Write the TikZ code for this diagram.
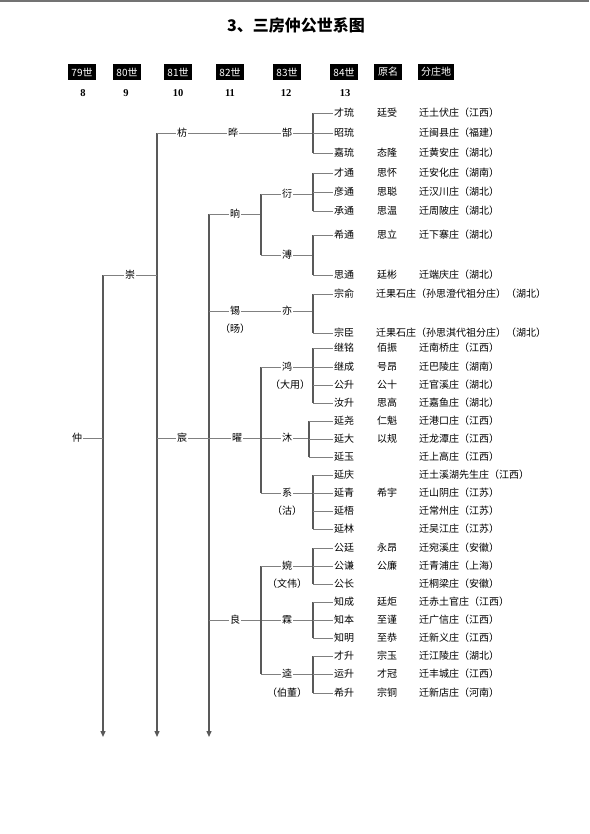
\documentclass[tikz,border=0pt]{standalone}
\usepackage{fontspec}
\newfontfamily\cjk{Noto Sans CJK SC}
\newfontfamily\ser{Liberation Serif}
\usetikzlibrary{arrows.meta,backgrounds}
\begin{document}
\begin{tikzpicture}[x=1pt,y=-1pt,
  txt/.style={font=\cjk\fontsize{10}{12}\selectfont, inner sep=1pt, text=black},
  gen/.style={txt, fill=white},
  nm/.style={txt, anchor=west},
  pl/.style={txt, anchor=west},
  og/.style={txt},
  note/.style={txt},
  hdr/.style={fill=black, text=white, font=\cjk\fontsize{10}{11}\selectfont, minimum width=28pt, minimum height=16pt, inner sep=0pt},
  num/.style={font=\ser\bfseries\fontsize{10.5}{12}\selectfont},
  ln/.style={draw=black!50, line width=0.9pt},
  br/.style={draw=black!65, line width=1.2pt},
  trunk/.style={draw=black!65, line width=1.3pt, -{Triangle[width=5pt,length=6pt]}},
]
\useasboundingbox (0,0) rectangle (589,834);
\fill[black!55] (0,0) rectangle (589,2.5);

\node[font=\cjk\bfseries\fontsize{16}{18}\selectfont] (title) at (296,25) {3、三房仲公世系图};

% header
\node[hdr] (h79) at (82,72) {79世};
\node[hdr] (h80) at (127,72) {80世};
\node[hdr] (h81) at (178,72) {81世};
\node[hdr] (h82) at (230,72) {82世};
\node[hdr] (h83) at (287,72) {83世};
\node[hdr] (h84) at (344,72) {84世};
\node[hdr] (hym) at (388,72) {原名};
\node[hdr, minimum width=36pt] (hfz) at (436,72) {分庄地};
\node[num] (g8) at (83,93) {8};
\node[num] (g9) at (126,93) {9};
\node[num] (g10) at (178,93) {10};
\node[num] (g11) at (230,93) {11};
\node[num] (g12) at (286,93) {12};
\node[num] (g13) at (345,93) {13};

% column coordinates
\coordinate (c1) at (103,275);
\coordinate (c1b) at (103,737);
\coordinate (c2) at (157,133);
\coordinate (c2b) at (157,737);
\coordinate (c3) at (209,214);
\coordinate (c3b) at (209,737);
\coordinate (c4) at (261,0);
\coordinate (c5) at (313,0);
\coordinate (c5m) at (309,0);

% generation nodes
\node[gen] (zhong) at (77,438) {仲};
\node[gen] (chong) at (130,275) {崇};
\node[gen] (fang) at (182,133) {枋};
\node[gen] (ye) at (233,133) {晔};
\node[gen] (gao) at (287,133) {郜};
\node[gen] (xiang) at (235,214) {晌};
\node[gen] (yan) at (287,194) {衍};
\node[gen] (pu) at (287,255) {溥};
\node[gen] (xi) at (235,311) {锡};
\node[note] (xin) at (235,329) {（旸）};
\node[gen] (yi) at (287,311) {亦};
\node[gen] (chen) at (182,438) {宸};
\node[gen] (yao) at (237,438) {曜};
\node[gen] (hong) at (287,367) {鸿};
\node[note] (hongn) at (290,385) {（大用）};
\node[gen] (mu) at (287,438) {沐};
\node[gen] (xis) at (287,493) {系};
\node[note] (xisn) at (287,511) {（沽）};
\node[gen] (liang) at (235,620) {良};
\node[gen] (wan) at (287,566) {婉};
\node[note] (wann) at (287,584) {（文伟）};
\node[gen] (lin) at (287,620) {霖};
\node[gen] (kui) at (287,674) {逵};
\node[note] (kuin) at (287,693) {（伯董）};

% 84th generation rows
\foreach \i/\y/\a/\c in {
 1/113/才琉/迁土伏庄（江西）,
 2/133/昭琉/迁闽县庄（福建）,
 3/153/嘉琉/迁黄安庄（湖北）,
 4/173/才通/迁安化庄（湖南）,
 5/192/彦通/迁汉川庄（湖北）,
 6/211/承通/迁周陂庄（湖北）,
 7/235/希通/迁下寨庄（湖北）,
 8/275/思通/迁端庆庄（湖北）,
 11/348/继铭/迁南桥庄（江西）,
 12/367/继成/迁巴陵庄（湖南）,
 13/385/公升/迁官溪庄（湖北）,
 14/403/汝升/迁嘉鱼庄（湖北）,
 15/421/延尧/迁港口庄（江西）,
 16/439/延大/迁龙潭庄（江西）,
 17/457/延玉/迁上高庄（江西）,
 18/475/延庆/迁土溪湖先生庄（江西）,
 19/493/延青/迁山阴庄（江苏）,
 20/511/延梧/迁常州庄（江苏）,
 21/529/延林/迁吴江庄（江苏）,
 22/548/公廷/迁宛溪庄（安徽）,
 23/566/公谦/迁青浦庄（上海）,
 24/584/公长/迁桐梁庄（安徽）,
 25/602/知成/迁赤土官庄（江西）,
 26/620/知本/迁广信庄（江西）,
 27/638/知明/迁新义庄（江西）,
 28/656/才升/迁江陵庄（湖北）,
 29/674/运升/迁丰城庄（江西）,
 30/693/希升/迁新店庄（河南）}{
  \node[nm] (r\i) at (333,\y) {\a};
  \node[pl] (p\i) at (418,\y) {\c};
}
\node[nm] (r9) at (333,294) {宗俞};
\node[pl] (p9) at (375,294) {迁果石庄（孙思澄代祖分庄）（湖北）};
\node[nm] (r10) at (333,333) {宗臣};
\node[pl] (p10) at (375,333) {迁果石庄（孙思淇代祖分庄）（湖北）};

\foreach \i/\y/\b in {1/113/廷受,3/153/态隆,4/173/思怀,5/192/思聪,6/211/思温,
 7/235/思立,8/275/廷彬,11/348/佰振,12/367/号昂,13/385/公十,14/403/思高,
 15/421/仁魁,16/439/以规,19/493/希宇,22/548/永昂,23/566/公廉,25/602/廷炬,
 26/620/至谨,27/638/至恭,28/656/宗玉,29/674/才冠,30/693/宗铜}{
  \node[og] (o\i) at (387,\y) {\b};
}

\begin{pgfonlayer}{background}
% trunks
\draw[trunk] (c1) -- (c1b);
\draw[trunk] (c2) -- (c2b);
\draw[trunk] (c3) -- (c3b);
\draw[ln] (zhong) -- (zhong -| c1);
\draw[ln] (chong -| c1) -- (chong) -- (chong -| c2);
% fang branch
\draw[ln] (c2) -- (fang) -- (ye) -- (gao) -- (gao -| c5);
% xiang branch
\draw[ln] (c3) -- (xiang) -- (xiang -| c4);
\draw[br] (yan -| c4) -- (pu -| c4);
\draw[ln] (yan -| c4) -- (yan) -- (yan -| c5);
\draw[ln] (pu -| c4) -- (pu) -- (pu -| c5);
% xi branch
\draw[ln] (xi -| c3) -- (xi) -- (yi) -- (yi -| c5);
% chen branch
\draw[ln] (chen -| c2) -- (chen) -- (yao) -- (mu) -- (mu -| c5m);
\draw[br] (hong -| c4) -- (xis -| c4);
\draw[ln] (hong -| c4) -- (hong) -- (hong -| c5);
\draw[ln] (xis -| c4) -- (xis) -- (xis -| c5);
% liang branch
\draw[ln] (liang -| c3) -- (liang) -- (lin) -- (lin -| c5);
\draw[br] (wan -| c4) -- (kui -| c4);
\draw[ln] (wan -| c4) -- (wan) -- (wan -| c5);
\draw[ln] (kui -| c4) -- (kui) -- (kui -| c5);
% brackets of 84th generation
\foreach \a/\b in {1/3,4/6,7/8,9/10,11/14,18/21,22/24,25/27,28/30}{
  \draw[br] (r\a -| c5) -- (r\b -| c5);
}
\draw[br] (r15 -| c5m) -- (r17 -| c5m);
\foreach \i in {1,...,14,18,19,...,30}{
  \draw[ln] (r\i -| c5) -- (r\i.west);
}
\foreach \i in {15,16,17}{
  \draw[ln] (r\i -| c5m) -- (r\i.west);
}
\end{pgfonlayer}
\end{tikzpicture}
\end{document}
